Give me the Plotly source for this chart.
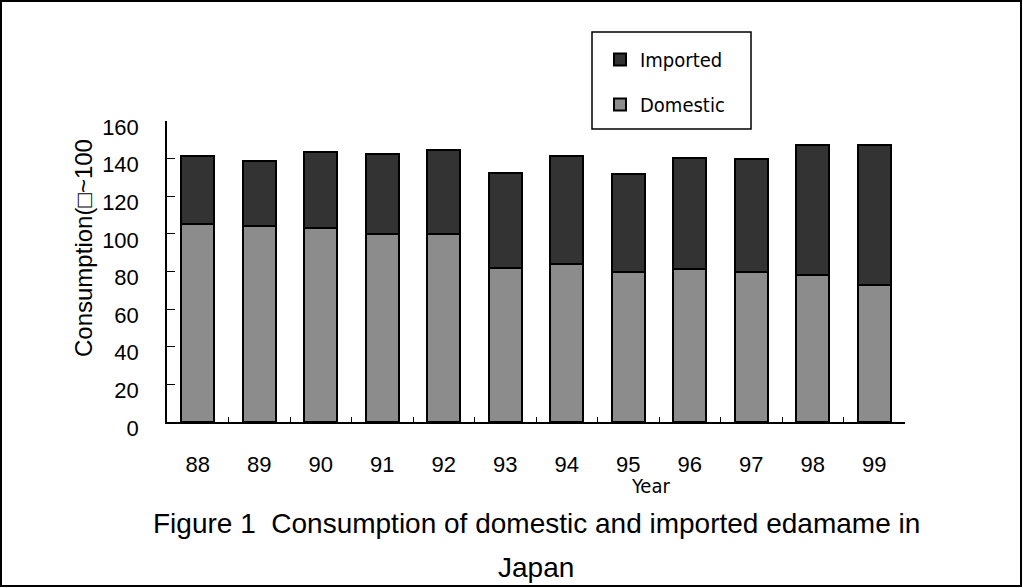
import plotly.graph_objects as go

# Edamame consumption in Japan, 1988-1999 (stacked: domestic + imported)
years = ["88", "89", "90", "91", "92", "93", "94", "95", "96", "97", "98", "99"]
domestic = [105, 104, 103, 100, 100, 82, 84, 79.5, 81.5, 79.5, 78, 73]
imported = [36.5, 35, 40.5, 42.5, 44.5, 50.5, 57.5, 52.5, 59, 60.5, 69.5, 74]
y_ticks = [0, 20, 40, 60, 80, 100, 120, 140, 160]

W, H = 1023, 588
L, R, T, B = 167, 905, 121, 422


def px(x):
    return (x - L) / (R - L)


def py(y):
    return (B - y) / (B - T)


LABEL_FONT = "Liberation Sans, Arial, sans-serif"
THIN_FONT = "DejaVu Sans Condensed, DejaVu Sans, sans-serif"

fig = go.Figure()
fig.add_trace(go.Bar(
    x=years, y=domestic, name="Domestic", legendgroup="d", legendrank=2,
    marker=dict(color="#8c8c8c", line=dict(color="black", width=2)),
))
fig.add_trace(go.Bar(
    x=years, y=imported, name="Imported", legendgroup="i", legendrank=1,
    marker=dict(color="#333333", line=dict(color="black", width=2)),
))


def note(text, x, y, font, size, angle=0):
    return dict(text=text, x=px(x), y=py(y), xref="paper", yref="paper",
                xanchor="center", yanchor="middle", textangle=angle,
                showarrow=False, font=dict(family=font, size=size, color="black"))


fig.update_layout(
    width=W, height=H,
    margin=dict(l=L, r=W - R, t=T, b=H - B, pad=0),
    paper_bgcolor="white", plot_bgcolor="white",
    barmode="stack", bargap=0.46,
    showlegend=True,
    legend=dict(
        x=px(600), y=py(40), xanchor="left", yanchor="top",
        traceorder="grouped", tracegroupgap=16,
        font=dict(family=THIN_FONT, size=20, color="black"),
        bgcolor="rgba(0,0,0,0)", borderwidth=0,
    ),
    xaxis=dict(
        type="category", showline=True, linecolor="black", linewidth=1.5,
        ticks="inside", tickson="boundaries", ticklen=5, tickcolor="black",
        showgrid=False, ticklabelstandoff=22,
        tickfont=dict(family=LABEL_FONT, size=22, color="black"),
    ),
    yaxis=dict(
        range=[0, 160], tickvals=y_ticks, showline=True, linecolor="black",
        linewidth=1.5, ticks="inside", ticklen=8, tickcolor="black",
        showgrid=False, zeroline=False, ticklabelstandoff=22, ticklabelshift=6,
        tickfont=dict(family=LABEL_FONT, size=22, color="black"),
    ),
    annotations=[
        note("Consumption(□~100", 83, 248, LABEL_FONT, 24, angle=-90),
        note("Year", 650, 486, THIN_FONT, 20),
        note("Figure 1  Consumption of domestic and imported edamame in",
             536, 523, LABEL_FONT, 28),
        note("Japan", 536, 567, LABEL_FONT, 28),
    ],
    shapes=[
        dict(type="rect", xref="paper", yref="paper", x0=px(1), x1=px(1021),
             y0=py(586), y1=py(1), line=dict(color="black", width=2)),
        dict(type="rect", xref="paper", yref="paper", x0=px(592), x1=px(751),
             y0=py(129), y1=py(32), line=dict(color="black", width=1.5)),
    ],
)

fig.write_html("out.html")
